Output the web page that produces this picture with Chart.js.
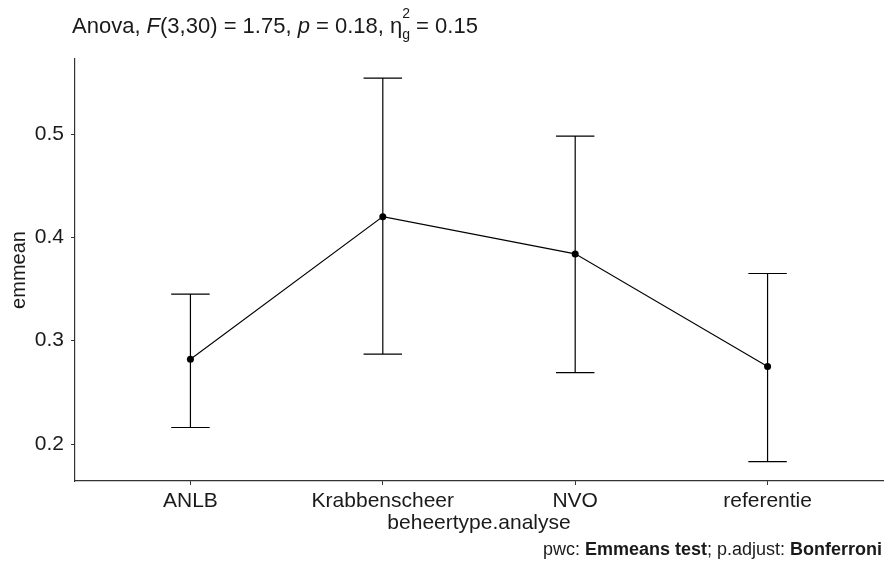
<!DOCTYPE html>
<html>
<head>
<meta charset="utf-8">
<script src="https://cdn.jsdelivr.net/npm/chart.js@4.4.1/dist/chart.umd.min.js"></script>
<style>
  html, body { margin: 0; padding: 0; background: #fff; }
  #wrap { width: 884px; height: 570px; }
</style>
</head>
<body>
<div id="wrap"><canvas id="chart"></canvas></div>
<script>
// data
const categories = ['ANLB', 'Krabbenscheer', 'NVO', 'referentie'];
const emmean = [0.282, 0.420, 0.384, 0.275];
const lower = [0.216, 0.287, 0.269, 0.183];
const upper = [0.345, 0.554, 0.498, 0.365];
const yTicks = [0.2, 0.3, 0.4, 0.5];

const FONT = "'Liberation Sans', Arial, sans-serif";
const TXT = '#1a1a1a';
const AXIS = '#333333';

// error bars drawn through the scales
const errorBars = {
    id: 'errorBars',
    afterDatasetsDraw(chart) {
        const { ctx, scales: { x, y } } = chart;
        ctx.save();
        ctx.strokeStyle = '#000';
        ctx.lineWidth = 1.2;
        categories.forEach((c, i) => {
            const px = x.getPixelForValue(i);
            const x0 = x.getPixelForValue(i - 0.1), x1 = x.getPixelForValue(i + 0.1);
            const yl = y.getPixelForValue(lower[i]), yu = y.getPixelForValue(upper[i]);
            ctx.beginPath();
            ctx.moveTo(px, yu); ctx.lineTo(px, yl);
            ctx.moveTo(x0, yu); ctx.lineTo(x1, yu);
            ctx.moveTo(x0, yl); ctx.lineTo(x1, yl);
            ctx.stroke();
        });
        ctx.restore();
    }
};

// title + caption with mixed styles
function drawParts(ctx, parts, x, y) {
    parts.forEach(p => {
        ctx.font = `${p.style || ''} ${p.weight || ''} ${p.size}px ${FONT}`;
        const w = ctx.measureText(p.t).width;
        ctx.fillText(p.t, x, y + (p.dy || 0));
        if (!p.noAdvance) x += w;
    });
    return x;
}
function partsWidth(ctx, parts) {
    let w = 0;
    parts.forEach(p => {
        ctx.font = `${p.style || ''} ${p.weight || ''} ${p.size}px ${FONT}`;
        if (!p.noAdvance) w += ctx.measureText(p.t).width;
    });
    return w;
}

const annotations = {
    id: 'annotations',
    afterDraw(chart) {
        const { ctx } = chart;
        ctx.save();
        ctx.fillStyle = TXT;
        ctx.textBaseline = 'alphabetic';
        ctx.textAlign = 'left';
        const s = 22;
        const title = [
            { t: 'Anova, ', size: s },
            { t: 'F', size: s, style: 'italic' },
            { t: '(3,30) = 1.75, ', size: s },
            { t: 'p', size: s, style: 'italic' },
            { t: ' = 0.18, ', size: s },
            { t: '\u03B7', size: s },
            { t: '2', size: 14, dy: -15, noAdvance: true },
            { t: 'g', size: 14, dy: 6 },
            { t: ' = 0.15', size: s }
        ];
        drawParts(ctx, title, 72, 33);

        const cs = 18;
        const caption = [
            { t: 'pwc: ', size: cs },
            { t: 'Emmeans test', size: cs, weight: 'bold' },
            { t: '; p.adjust: ', size: cs },
            { t: 'Bonferroni', size: cs, weight: 'bold' }
        ];
        const w = partsWidth(ctx, caption);
        drawParts(ctx, caption, 882 - w, 555);
        ctx.restore();
    }
};

new Chart(document.getElementById('chart'), {
    type: 'line',
    data: {
        datasets: [{
            data: emmean.map((v, i) => ({ x: i, y: v })),
            borderColor: '#000',
            borderWidth: 1.1,
            pointRadius: 3.5,
            pointBackgroundColor: '#000',
            pointBorderColor: '#000',
            pointBorderWidth: 0,
            tension: 0
        }]
    },
    options: {
        responsive: true,
        maintainAspectRatio: false,
        animation: false,
        events: [],
        layout: { autoPadding: false, padding: { left: 0, top: 59, right: 1, bottom: 34 } },
        plugins: { legend: { display: false }, tooltip: { enabled: false } },
        scales: {
            x: {
                type: 'linear',
                min: -0.6,
                max: 3.6,
                afterBuildTicks: (scale) => { scale.ticks = categories.map((c, i) => ({ value: i })); },
                afterFit: (scale) => { scale.height = 55; },
                ticks: {
                    callback: (v) => categories[v],
                    color: TXT,
                    font: { family: FONT, size: 21 },
                    padding: 4,
                    maxRotation: 0,
                    autoSkip: false
                },
                grid: { display: true, drawOnChartArea: false, tickLength: 4, tickColor: AXIS, tickWidth: 1 },
                border: { display: true, color: AXIS, width: 1.2 },
                title: {
                    display: true,
                    text: 'beheertype.analyse',
                    color: TXT,
                    font: { family: FONT, size: 21 },
                    padding: { top: 0, bottom: 0 }
                }
            },
            y: {
                min: 0.1642,
                max: 0.5726,
                afterBuildTicks: (scale) => { scale.ticks = yTicks.map(v => ({ value: v })); },
                afterFit: (scale) => { scale.width = 75; },
                ticks: {
                    callback: (v) => v.toFixed(1),
                    color: TXT,
                    font: { family: FONT, size: 21 },
                    padding: 7
                },
                grid: { display: true, drawOnChartArea: false, tickLength: 4, tickColor: AXIS, tickWidth: 1 },
                border: { display: true, color: AXIS, width: 1.2 },
                title: {
                    display: true,
                    text: 'emmean',
                    color: TXT,
                    font: { family: FONT, size: 20 },
                    padding: { top: 7, bottom: 0 }
                }
            }
        }
    },
    plugins: [errorBars, annotations]
});
</script>
</body>
</html>
